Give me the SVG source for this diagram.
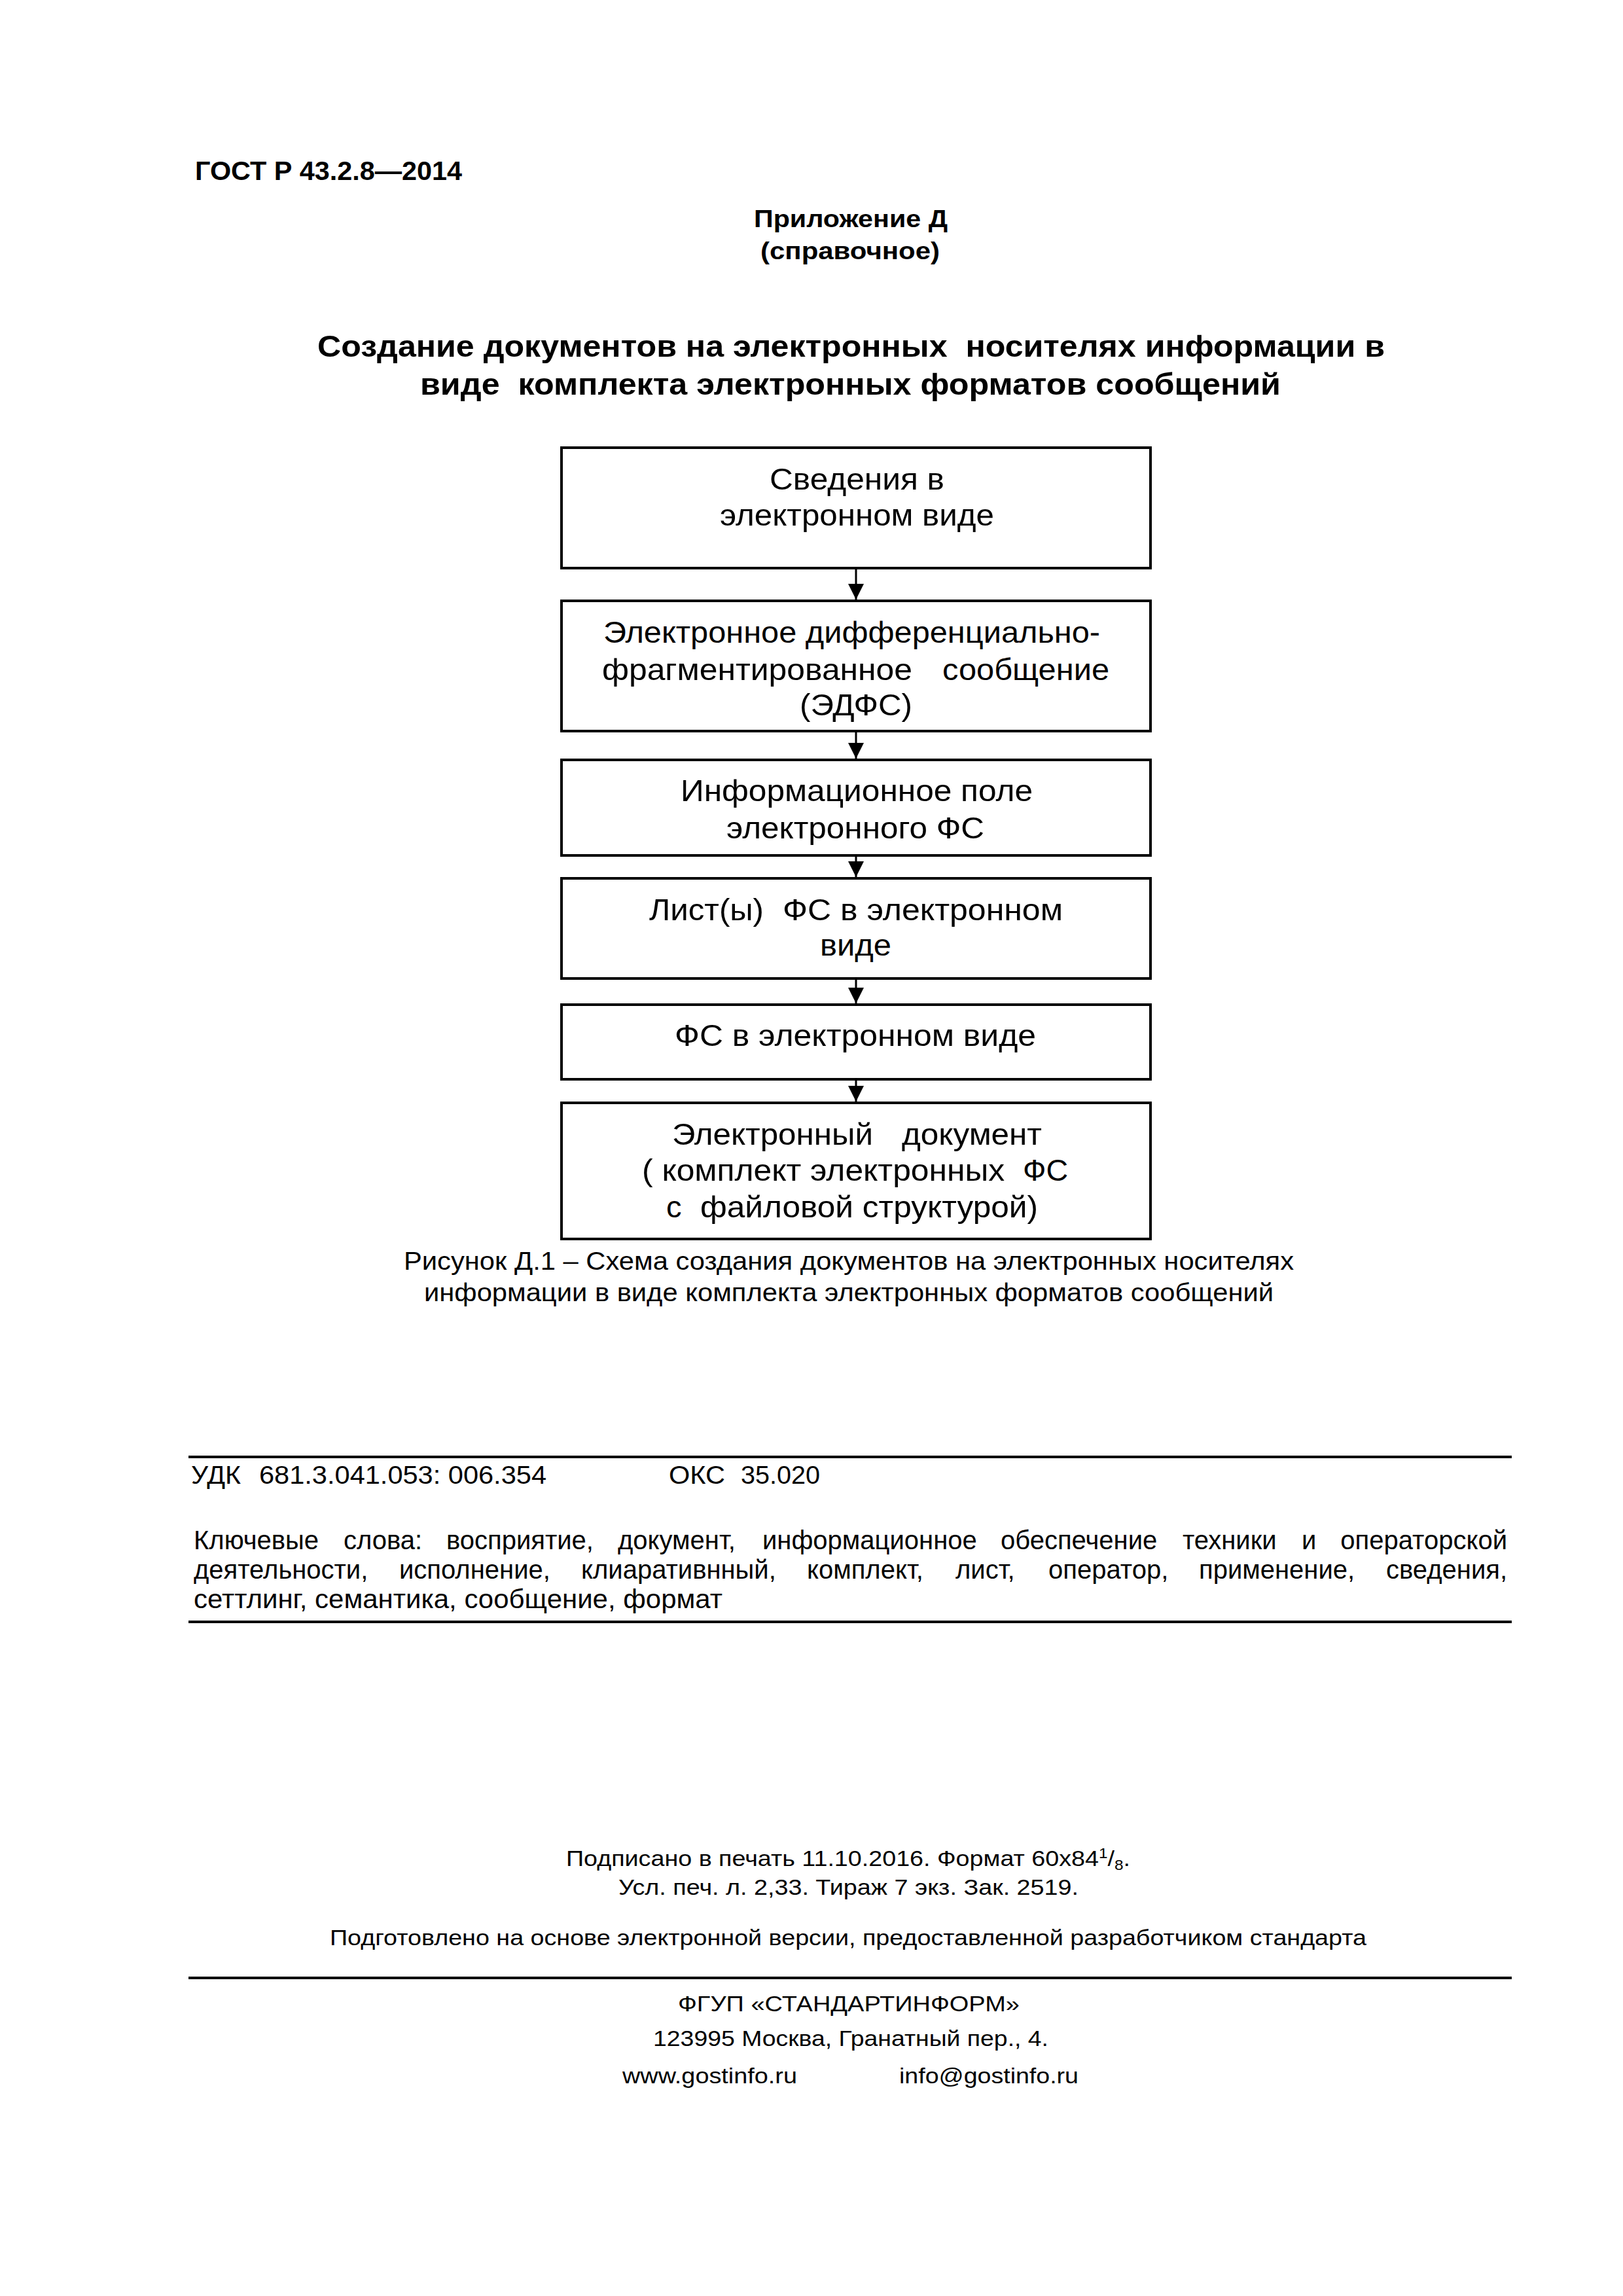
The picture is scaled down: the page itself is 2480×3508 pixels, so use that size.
<svg xmlns="http://www.w3.org/2000/svg" width="2480" height="3508" viewBox="0 0 2480 3508">
<style>
text{font-family:"Liberation Sans",Arial,"DejaVu Sans",sans-serif;fill:#000}
.b{font-weight:bold}
.hd{font-size:41px}
.ap{font-size:37px}
.tt{font-size:47px}
.bx{font-size:47px}
.cap{font-size:38px}
.kw{font-size:40px}
.ud{font-size:38px}
.ft{font-size:34px}
.end{text-anchor:end}
.node{fill:#fff;stroke:#000;stroke-width:4}
.rule{stroke:#000;stroke-width:4}
.con{stroke:#000;stroke-width:3;fill:none}
</style>
<defs>
<marker id="ah" markerUnits="userSpaceOnUse" markerWidth="24" markerHeight="24" viewBox="0 0 24 24" refX="24" refY="12" orient="auto">
<path d="M0,0 L24,12 L0,24 z" fill="#000"/>
</marker>
</defs>
<rect width="2480" height="3508" fill="#fff"/>

<g id="header">
<text class="b hd" x="298" y="275" textLength="408" lengthAdjust="spacingAndGlyphs">ГОСТ Р 43.2.8—2014</text>
<text class="b ap" x="1152" y="347" textLength="296" lengthAdjust="spacingAndGlyphs">Приложение Д</text>
<text class="b ap" x="1162" y="396" textLength="274" lengthAdjust="spacingAndGlyphs">(справочное)</text>
<text class="b tt" xml:space="preserve" x="485" y="545" textLength="1631" lengthAdjust="spacingAndGlyphs">Создание документов на электронных  носителях информации в</text>
<text class="b tt" xml:space="preserve" x="642" y="603" textLength="1315" lengthAdjust="spacingAndGlyphs">виде  комплекта электронных форматов сообщений</text>
</g>

<g id="connectors">
<line class="con" x1="1308" y1="870" x2="1308" y2="916" marker-end="url(#ah)"/>
<line class="con" x1="1308" y1="1119" x2="1308" y2="1159" marker-end="url(#ah)"/>
<line class="con" x1="1308" y1="1309" x2="1308" y2="1340" marker-end="url(#ah)"/>
<line class="con" x1="1308" y1="1497" x2="1308" y2="1533" marker-end="url(#ah)"/>
<line class="con" x1="1308" y1="1651" x2="1308" y2="1683" marker-end="url(#ah)"/>
</g>

<g id="node1">
<rect class="node" x="858" y="684" width="900" height="184"/>
<text class="bx" x="1176" y="748" textLength="267" lengthAdjust="spacingAndGlyphs">Сведения в</text>
<text class="bx" x="1100" y="803" textLength="419" lengthAdjust="spacingAndGlyphs">электронном виде</text>
</g>

<g id="node2">
<rect class="node" x="858" y="918" width="900" height="199"/>
<text class="bx" x="922" y="982" textLength="759" lengthAdjust="spacingAndGlyphs">Электронное дифференциально-</text>
<text class="bx" x="920" y="1039" textLength="474" lengthAdjust="spacingAndGlyphs">фрагментированное</text>
<text class="bx" x="1440" y="1039" textLength="255" lengthAdjust="spacingAndGlyphs">сообщение</text>
<text class="bx" x="1222" y="1093" textLength="172" lengthAdjust="spacingAndGlyphs">(ЭДФС)</text>
</g>

<g id="node3">
<rect class="node" x="858" y="1161" width="900" height="146"/>
<text class="bx" x="1040" y="1224" textLength="538" lengthAdjust="spacingAndGlyphs">Информационное поле</text>
<text class="bx" x="1110" y="1281" textLength="394" lengthAdjust="spacingAndGlyphs">электронного ФС</text>
</g>

<g id="node4">
<rect class="node" x="858" y="1342" width="900" height="153"/>
<text class="bx" x="992" y="1406" textLength="175" lengthAdjust="spacingAndGlyphs">Лист(ы)</text>
<text class="bx" x="1196" y="1406" textLength="428" lengthAdjust="spacingAndGlyphs">ФС в электронном</text>
<text class="bx" x="1253" y="1460" textLength="109" lengthAdjust="spacingAndGlyphs">виде</text>
</g>

<g id="node5">
<rect class="node" x="858" y="1535" width="900" height="114"/>
<text class="bx" x="1031" y="1598" textLength="552" lengthAdjust="spacingAndGlyphs">ФС в электронном виде</text>
</g>

<g id="node6">
<rect class="node" x="858" y="1685" width="900" height="208"/>
<text class="bx" x="1027" y="1749" textLength="307" lengthAdjust="spacingAndGlyphs">Электронный</text>
<text class="bx" x="1378" y="1749" textLength="214" lengthAdjust="spacingAndGlyphs">документ</text>
<text class="bx" x="981" y="1804" textLength="554" lengthAdjust="spacingAndGlyphs">( комплект электронных</text>
<text class="bx" x="1563" y="1804" textLength="69" lengthAdjust="spacingAndGlyphs">ФС</text>
<text class="bx" x="1018" y="1860">с</text>
<text class="bx" x="1070" y="1860" textLength="516" lengthAdjust="spacingAndGlyphs">файловой структурой)</text>
</g>

<g id="caption">
<text class="cap" x="617" y="1940" textLength="1360" lengthAdjust="spacingAndGlyphs">Рисунок Д.1 – Схема создания документов на электронных носителях</text>
<text class="cap" x="648" y="1988" textLength="1298" lengthAdjust="spacingAndGlyphs">информации в виде комплекта электронных форматов сообщений</text>
</g>

<g id="biblio">
<line class="rule" x1="288" y1="2226" x2="2310" y2="2226"/>
<text class="ud" x="292" y="2267" textLength="76" lengthAdjust="spacingAndGlyphs">УДК</text>
<text class="ud" x="396" y="2267" textLength="439" lengthAdjust="spacingAndGlyphs">681.3.041.053: 006.354</text>
<text class="ud" x="1022" y="2267" textLength="86" lengthAdjust="spacingAndGlyphs">ОКС</text>
<text class="ud" x="1132" y="2267" textLength="121" lengthAdjust="spacingAndGlyphs">35.020</text>
<text class="kw" y="2367"><tspan x="296">Ключевые</tspan><tspan x="525">слова:</tspan><tspan x="682">восприятие,</tspan><tspan x="944">документ,</tspan><tspan x="1165">информационное</tspan><tspan x="1529">обеспечение</tspan><tspan x="1807">техники</tspan><tspan x="1989">и</tspan></text>
<text class="kw end" x="2303" y="2367">операторской</text>
<text class="kw" y="2412"><tspan x="296">деятельности,</tspan><tspan x="610">исполнение,</tspan><tspan x="888">клиаративнный,</tspan><tspan x="1233">комплект,</tspan><tspan x="1460">лист,</tspan><tspan x="1602">оператор,</tspan><tspan x="1832">применение,</tspan></text>
<text class="kw end" x="2303" y="2412">сведения,</text>
<text class="kw" x="296" y="2457" textLength="808" lengthAdjust="spacingAndGlyphs">сеттлинг, семантика, сообщение, формат</text>
<line class="rule" x1="288" y1="2478" x2="2310" y2="2478"/>
</g>

<g id="imprint">
<text class="ft" x="865" y="2851" textLength="862" lengthAdjust="spacingAndGlyphs">Подписано в печать 11.10.2016. Формат 60х84<tspan font-size="22" dy="-12">1</tspan><tspan dy="12">/</tspan><tspan font-size="22" dy="6">8</tspan><tspan dy="-6">.</tspan></text>
<text class="ft" x="945" y="2895" textLength="703" lengthAdjust="spacingAndGlyphs">Усл. печ. л. 2,33. Тираж 7 экз. Зак. 2519.</text>
<text class="ft" x="504" y="2972" textLength="1584" lengthAdjust="spacingAndGlyphs">Подготовлено на основе электронной версии, предоставленной разработчиком стандарта</text>
<line class="rule" x1="288" y1="3022" x2="2310" y2="3022"/>
<text class="ft" x="1036" y="3073" textLength="522" lengthAdjust="spacingAndGlyphs">ФГУП «СТАНДАРТИНФОРМ»</text>
<text class="ft" x="998" y="3126" textLength="604" lengthAdjust="spacingAndGlyphs">123995 Москва, Гранатный пер., 4.</text>
<text class="ft" x="951" y="3183" textLength="267" lengthAdjust="spacingAndGlyphs">www.gostinfo.ru</text>
<text class="ft" x="1374" y="3183" textLength="274" lengthAdjust="spacingAndGlyphs">info@gostinfo.ru</text>
</g>
</svg>
